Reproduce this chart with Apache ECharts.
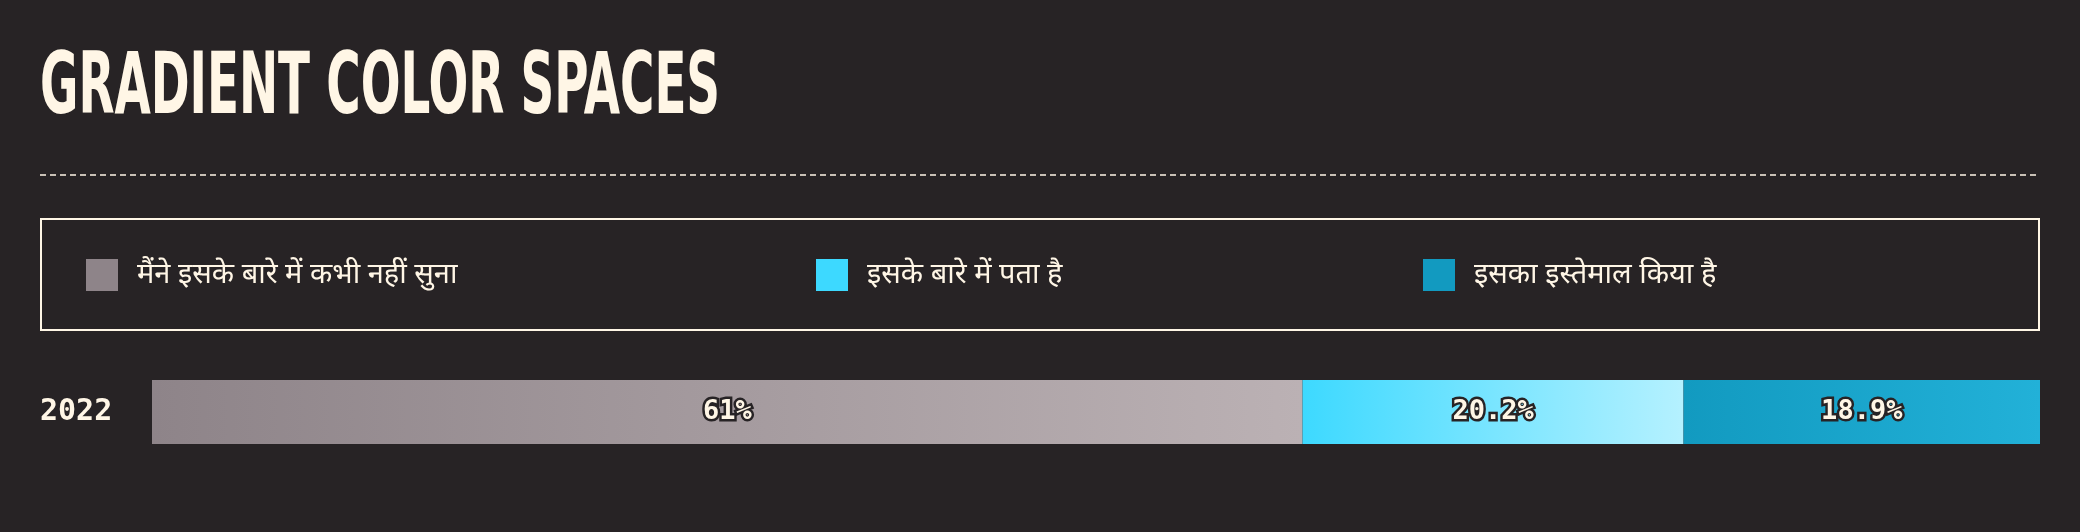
<!DOCTYPE html>
<html>
<head>
<meta charset="utf-8">
<script src="https://cdn.jsdelivr.net/npm/echarts@6/dist/echarts.min.js"></script>
<style>
  html, body { margin: 0; padding: 0; background: #272325; }
  #chart { width: 2080px; height: 532px; }
</style>
</head>
<body>
<div id="chart"></div>
<script>
const categories = ['2022']
const seriesNames = ['मैंने इसके बारे में कभी नहीं सुना', 'इसके बारे में पता है', 'इसका इस्तेमाल किया है']
const heardNever = [61]
const knowAbout = [20.2]
const usedIt = [18.9]
const legendColors = ['#8e8489', '#3dd9ff', '#129ac0']
const gradientStops = [
  ['#8e8489', '#bbb1b4'],
  ['#3dd9ff', '#b5f1ff'],
  ['#129ac0', '#22b1d8']
]

const cream = '#fff6e6'
const bg = '#272325'
const monoFont = '"DejaVu Sans Mono", "Liberation Mono", monospace'

let myChart = echarts.init(document.getElementById('chart'), null, { width: 2080, height: 532 })

const values = [heardNever, knowAbout, usedIt]
const total = values.reduce((s, v) => s + v[0], 0)

const makeGradient = (stops) => new echarts.graphic.LinearGradient(0, 0, 1, 0, [
  { offset: 0, color: stops[0] },
  { offset: 1, color: stops[1] }
])

const legendLefts = [86, 816, 1423]

let option = {
  backgroundColor: bg,
  animation: false,
  graphic: [
    {
      type: 'text',
      left: 40,
      top: 48,
      scaleX: 0.605,
      style: {
        text: 'GRADIENT COLOR SPACES',
        font: 'bold 86px "DejaVu Sans Condensed", sans-serif',
        fill: cream
      }
    },
    {
      type: 'line',
      shape: { x1: 40, y1: 175, x2: 2040, y2: 175 },
      style: { stroke: cream, lineWidth: 1.5, lineDash: [6, 4] }
    },
    {
      type: 'rect',
      shape: { x: 41, y: 219, width: 1998, height: 111 },
      style: { fill: 'none', stroke: cream, lineWidth: 2 }
    }
  ],
  legend: seriesNames.map((name, i) => ({
    left: legendLefts[i],
    top: 259,
    padding: 0,
    itemWidth: 32,
    itemHeight: 32,
    icon: 'rect',
    data: [{ name: name, itemStyle: { color: legendColors[i] } }],
    textStyle: { color: cream, fontSize: 29, fontFamily: '"Noto Sans", sans-serif', padding: [0, 0, 0, 14] }
  })),
  grid: { left: 152, right: 40, top: 380, height: 64, containLabel: false },
  xAxis: { type: 'value', min: 0, max: total, show: false },
  yAxis: {
    type: 'category',
    data: categories,
    axisLine: { show: false },
    axisTick: { show: false },
    axisLabel: {
      color: cream,
      fontSize: 30,
      fontWeight: 'bold',
      fontFamily: monoFont,
      align: 'left',
      margin: 112
    }
  },
  series: seriesNames.map((name, i) => ({
    name: name,
    type: 'bar',
    stack: 'total',
    barWidth: 64,
    data: values[i],
    itemStyle: { color: makeGradient(gradientStops[i]) },
    label: {
      show: true,
      position: 'inside',
      formatter: (p) => p.value + '%',
      color: cream,
      fontSize: 27,
      fontWeight: 'bold',
      fontFamily: monoFont,
      textBorderColor: bg,
      textBorderWidth: 5
    }
  }))
}
myChart.setOption(option)
</script>
</body>
</html>
